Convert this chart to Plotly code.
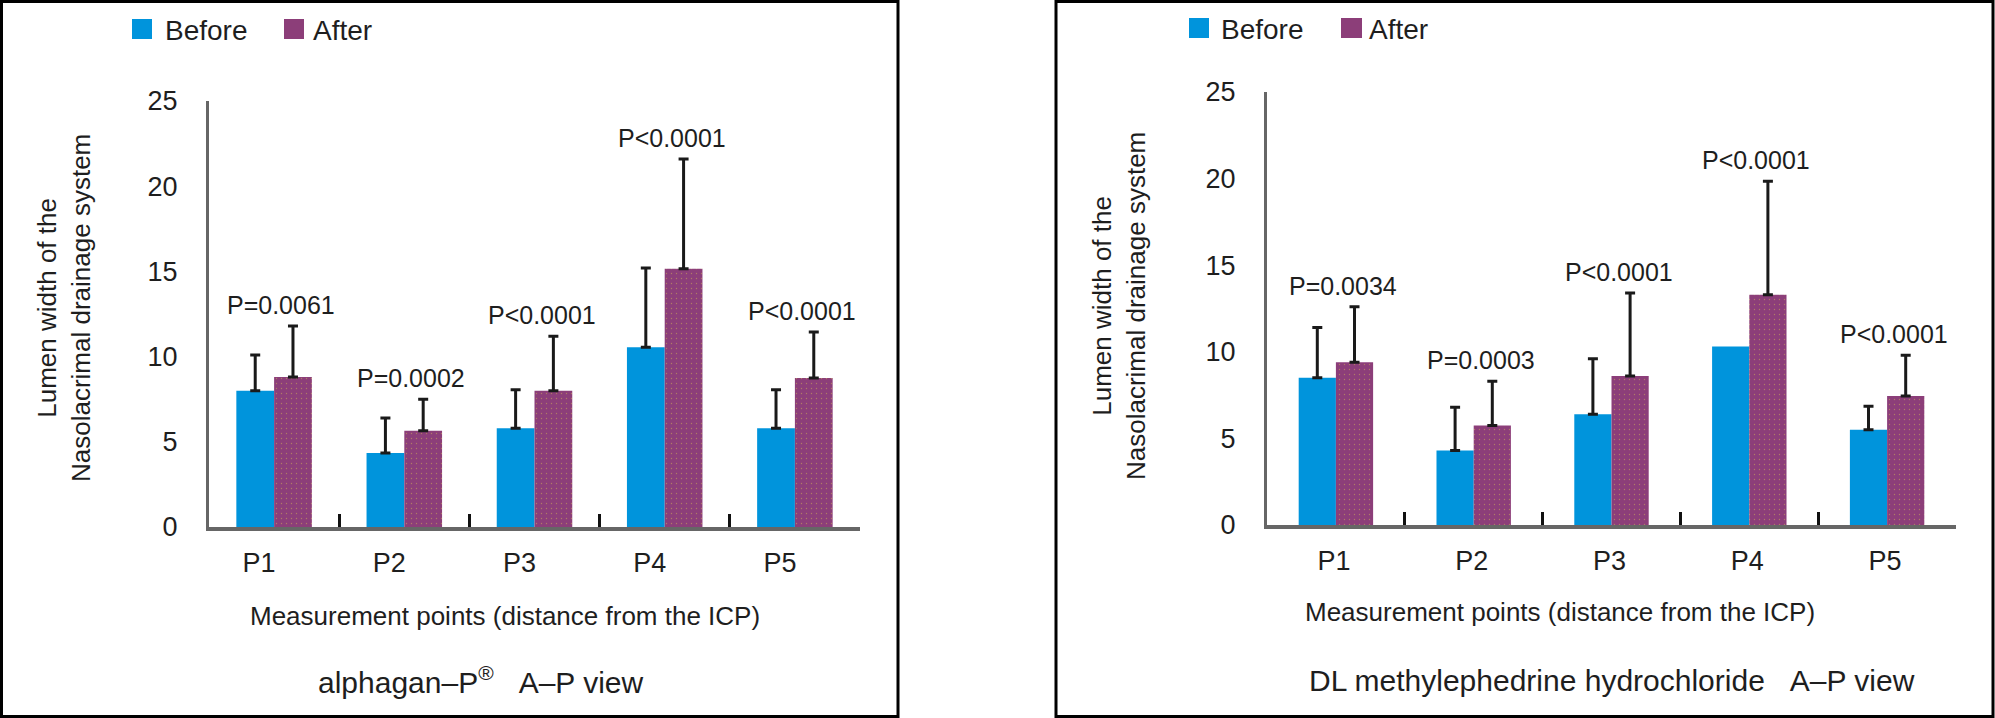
import plotly.graph_objects as go

W, H = 1995, 718

# ---------------- data ----------------
categories = ["P1", "P2", "P3", "P4", "P5"]
y_ticks = [0, 5, 10, 15, 20, 25]

# alphagan-P (left panel)
alpha_before = [8.0, 4.35, 5.8, 10.55, 5.8]
alpha_before_sd = [2.1, 2.05, 2.25, 4.65, 2.25]
alpha_after = [8.8, 5.65, 8.0, 15.15, 8.75]
alpha_after_sd = [3.0, 1.85, 3.2, 6.45, 2.7]
alpha_p = ["P=0.0061", "P=0.0002", "P<0.0001", "P<0.0001", "P<0.0001"]

# DL methylephedrine hydrochloride (right panel)
dl_before = [8.5, 4.3, 6.4, 10.3, 5.5]
dl_before_sd = [2.9, 2.5, 3.2, None, 1.35]   # no error bar drawn for P4 "before"
dl_after = [9.4, 5.75, 8.6, 13.3, 7.45]
dl_after_sd = [3.2, 2.55, 4.8, 6.55, 2.35]
dl_p = ["P=0.0034", "P=0.0003", "P<0.0001", "P<0.0001", "P<0.0001"]

series_names = ["Before", "After"]
y_title = "Lumen width of the<br>Nasolacrimal drainage system"
x_title = "Measurement points (distance from the ICP)"
titles = ["alphagan\u2013P<sup>®</sup>\u00a0\u00a0\u00a0A\u2013P view",
          "DL methylephedrine hydrochloride\u00a0\u00a0\u00a0A\u2013P view"]

# ---------------- style ----------------
BLUE = "#0094DC"
PURPLE = "#8C3E79"
DOTS = "#B07A66"
TXT = "#1E1E1E"
AXIS = "#666666"
FONT = "Liberation Sans, Arial, sans-serif"


def px(x):
    return x / W


def py(y):
    return 1 - y / H


def err_arrays(sd):
    """upper-only error bars; a missing value gives no bar at all"""
    up = [("NaN" if v is None else v) for v in sd]
    down = [("NaN" if v is None else 0) for v in sd]
    return up, down


panels = [
    dict(before=alpha_before, before_sd=alpha_before_sd, after=alpha_after,
         after_sd=alpha_after_sd, p=alpha_p, xa="x", ya="y",
         xdom=[px(209), px(860)], ydom=[py(527), py(101)], bw=0.29,
         tshift=-15, box=[1.5, 1.5, 898, 716.5],
         legend=[(132, 152, 163), (284, 304, 311)], leg_y=(19, 39),
         ytitle=(64, 308), xtitle=(505, 616), title=(480, 680)),
    dict(before=dl_before, before_sd=dl_before_sd, after=dl_after,
         after_sd=dl_after_sd, p=dl_p, xa="x2", ya="y2",
         xdom=[px(1267), px(1956)], ydom=[py(525), py(92)], bw=0.27,
         tshift=-2, box=[1056, 1.5, 1993, 716.5],
         legend=[(1189, 1209, 1219), (1341, 1362, 1367)], leg_y=(18, 38),
         ytitle=(1119, 306), xtitle=(1560, 612), title=(1612, 680)),
]

fig = go.Figure()
annotations = []
shapes = []

for i, pn in enumerate(panels):
    w = pn["bw"]
    err_common = dict(type="data", symmetric=False, color="#1A1A1A",
                      thickness=3, width=5, visible=True)
    b_up, b_down = err_arrays(pn["before_sd"])
    a_up, a_down = err_arrays(pn["after_sd"])
    fig.add_trace(go.Bar(
        x=categories, y=pn["before"], name=series_names[0],
        width=w, offset=-w, marker=dict(color=BLUE, line=dict(width=0)),
        error_y=dict(array=b_up, arrayminus=b_down, **err_common),
        xaxis=pn["xa"], yaxis=pn["ya"], showlegend=False))
    fig.add_trace(go.Bar(
        x=categories, y=pn["after"], name=series_names[1],
        width=w, offset=0,
        marker=dict(color=PURPLE, line=dict(width=0),
                    pattern=dict(shape=".", fgcolor=DOTS, bgcolor=PURPLE,
                                 size=5, solidity=0.06, fillmode="replace")),
        error_y=dict(array=a_up, arrayminus=a_down, **err_common),
        xaxis=pn["xa"], yaxis=pn["ya"], showlegend=False))

    # p-value labels above the "after" error bars
    for c, a, s, t in zip(categories, pn["after"], pn["after_sd"], pn["p"]):
        annotations.append(dict(
            x=c, y=a + s, xref=pn["xa"], yref=pn["ya"], text=t, showarrow=False,
            xanchor="center", yanchor="bottom", yshift=5, xshift=7,
            font=dict(family=FONT, size=25, color=TXT)))

    # axis titles and panel titles
    yx, yy = pn["ytitle"]
    annotations.append(dict(x=px(yx), y=py(yy), xref="paper", yref="paper",
                            text=y_title, textangle=-90, showarrow=False,
                            xanchor="center", yanchor="middle",
                            font=dict(family=FONT, size=26, color=TXT)))
    xx, xy = pn["xtitle"]
    annotations.append(dict(x=px(xx), y=py(xy), xref="paper", yref="paper",
                            text=x_title, showarrow=False,
                            xanchor="center", yanchor="middle",
                            font=dict(family=FONT, size=26, color=TXT)))
    tx, ty = pn["title"]
    annotations.append(dict(x=px(tx), y=py(ty), xref="paper", yref="paper",
                            text=titles[i], showarrow=False,
                            xanchor="center", yanchor="middle",
                            font=dict(family=FONT, size=30, color=TXT)))

    # manual legend
    ly0, ly1 = pn["leg_y"]
    for (sx0, sx1, tx0), nm, col in zip(pn["legend"], series_names, [BLUE, PURPLE]):
        shapes.append(dict(type="rect", xref="paper", yref="paper",
                           x0=px(sx0), x1=px(sx1), y0=py(ly1), y1=py(ly0),
                           fillcolor=col, line=dict(width=0)))
        annotations.append(dict(x=px(tx0), y=py((ly0 + ly1) / 2 + 1), xref="paper", yref="paper",
                                text=nm, showarrow=False, xanchor="left", yanchor="middle",
                                font=dict(family=FONT, size=28, color=TXT)))

    # panel border
    bx0, by0, bx1, by1 = pn["box"]
    shapes.append(dict(type="rect", xref="paper", yref="paper",
                       x0=px(bx0), x1=px(bx1), y0=py(by1), y1=py(by0),
                       line=dict(color="black", width=3), fillcolor="rgba(0,0,0,0)"))

axis_common_x = dict(type="category", categoryorder="array", categoryarray=categories,
                     range=[-0.5, 4.5], showline=True, linecolor=AXIS, linewidth=4,
                     showgrid=False, zeroline=False, ticks="inside", tickson="boundaries",
                     ticklen=13, tickwidth=3, tickcolor="#111111",
                     tickfont=dict(family=FONT, size=27, color=TXT),
                     ticklabelstandoff=9, fixedrange=True, automargin=False)
axis_common_y = dict(range=[0, 25], tickvals=y_ticks, showline=True, linecolor=AXIS,
                     linewidth=3, showgrid=False, zeroline=False, ticks="",
                     tickfont=dict(family=FONT, size=27, color=TXT),
                     ticklabelstandoff=23, fixedrange=True, automargin=False)

fig.update_layout(
    width=W, height=H, autosize=False,
    margin=dict(l=0, r=0, t=0, b=0, pad=0, autoexpand=False),
    paper_bgcolor="white", plot_bgcolor="white",
    barmode="overlay", showlegend=False,
    xaxis=dict(domain=panels[0]["xdom"], anchor="y", ticklabelshift=panels[0]["tshift"], **axis_common_x),
    yaxis=dict(domain=panels[0]["ydom"], anchor="x", **axis_common_y),
    xaxis2=dict(domain=panels[1]["xdom"], anchor="y2", ticklabelshift=panels[1]["tshift"], **axis_common_x),
    yaxis2=dict(domain=panels[1]["ydom"], anchor="x2", **axis_common_y),
    annotations=annotations, shapes=shapes,
    font=dict(family=FONT, color=TXT),
)

# remove the default page margin so the figure fills the window exactly
fig.write_html("out.html",
               config={"displayModeBar": False},
               post_script="document.body.style.margin='0';"
                           "document.body.style.overflow='hidden';")
